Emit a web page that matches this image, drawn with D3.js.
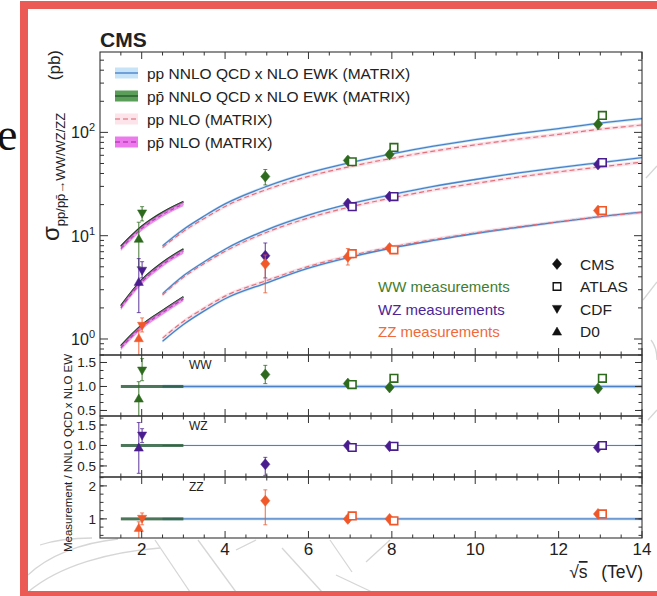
<!DOCTYPE html>
<html>
<head>
<meta charset="utf-8">
<script src="https://cdn.jsdelivr.net/npm/d3@7"></script>
<style>
  body { margin: 0; background: #fff; }
  text { font-family: "Liberation Sans", Arial, Helvetica, sans-serif; fill: #222; }
</style>
</head>
<body>
<svg id="chart" width="657" height="596"></svg>
<script>
// ---------- theory curves ----------
var ppE      = [2.5, 3, 3.5, 4, 5, 6, 7, 8, 9, 10, 11, 12, 13, 14];
var ppWWnnlo = [8.0, 11.5, 15.5, 20.3, 30, 40.5, 51, 62, 73.5, 85, 97, 109, 123, 136];
var ppWWnlo  = [7.7, 11.0, 14.7, 19.2, 28.0, 37.5, 46.7, 56.1, 65.9, 75.7, 85.7, 95.7, 107.4, 118.0];
var ppWZnnlo = [2.75, 4.1, 5.6, 7.4, 11.4, 15.8, 20.4, 25.0, 30.0, 35.0, 40.3, 45.6, 51.0, 57.0];
var ppWZnlo  = [2.67, 3.96, 5.38, 7.07, 10.8, 14.85, 19.0, 23.2, 27.7, 32.1, 36.8, 41.5, 46.3, 51.6];
var ppZZnnlo = [0.95, 1.38, 1.87, 2.45, 3.5, 4.85, 6.2, 7.6, 9.0, 10.5, 12.0, 13.6, 15.3, 16.9];
var ppZZnlo  = [1.02, 1.48, 1.99, 2.60, 3.68, 5.04, 6.39, 7.79, 9.18, 10.66, 12.12, 13.67, 15.3, 16.8];

var ppbarE      = [1.5, 2.0, 2.5, 3.0];
var ppbarWWnnlo = [7.9, 12.3, 16.8, 21.3];
var ppbarWWnlo  = [7.5, 11.7, 16.0, 20.3];
var ppbarWZnnlo = [2.1, 3.72, 5.5, 7.4];
var ppbarWZnlo  = [2.0, 3.55, 5.25, 7.05];
var ppbarZZnnlo = [0.86, 1.36, 1.88, 2.55];
var ppbarZZnlo  = [0.82, 1.30, 1.80, 2.44];

// relative widths of the theory bands
var ppNnloUnc = 0.03, ppNloUnc = 0.04, ppbarNnloUnc = 0.025, ppbarNloUnc = 0.05;
var ratioUncWW = 0.035, ratioUncWZ = 0.015, ratioUncZZ = 0.04;

// ---------- measurements: value [lo,hi] and ratio to theory [lo,hi] ----------
var wwData = [
  {exp: "CDF",   E: 1.96, v: 16.4, lo: 13.9, hi: 19.1, r: 1.33, rlo: 1.12, rhi: 1.58},
  {exp: "D0",    E: 1.96, v: 9.35, lo: 5.0,  hi: 13.5, r: 0.75, rlo: 0.35, rhi: 1.10},
  {exp: "CMS",   E: 5.02, v: 37.4, lo: 31.0, hi: 43.7, r: 1.25, rlo: 1.06, rhi: 1.44},
  {exp: "CMS",   E: 7,    v: 53.5, lo: 49.5, hi: 57.5, r: 1.06, rlo: 1.00, rhi: 1.12},
  {exp: "ATLAS", E: 7,    v: 52.0, lo: 49.0, hi: 55.0, r: 1.04, rlo: 0.99, rhi: 1.09},
  {exp: "CMS",   E: 8,    v: 61.0, lo: 57.0, hi: 65.0, r: 0.98, rlo: 0.93, rhi: 1.03},
  {exp: "ATLAS", E: 8,    v: 71.5, lo: 68.0, hi: 75.0, r: 1.17, rlo: 1.11, rhi: 1.23},
  {exp: "CMS",   E: 13,   v: 119.6, lo: 113, hi: 126,  r: 0.96, rlo: 0.92, rhi: 1.00},
  {exp: "ATLAS", E: 13,   v: 146,  lo: 139,  hi: 154,  r: 1.17, rlo: 1.11, rhi: 1.24}
];
var wzData = [
  {exp: "CDF",   E: 1.96, v: 4.57, lo: 3.9,  hi: 5.6,  r: 1.24, rlo: 1.07, rhi: 1.41},
  {exp: "D0",    E: 1.96, v: 3.58, lo: 1.8,  hi: 6.0,  r: 0.95, rlo: 0.32, rhi: 1.56},
  {exp: "CMS",   E: 5.02, v: 6.4,  lo: 3.9,  hi: 8.5,  r: 0.54, rlo: 0.27, rhi: 0.71},
  {exp: "CMS",   E: 7,    v: 20.5, lo: 19.3, hi: 21.8, r: 1.00, rlo: 0.95, rhi: 1.05},
  {exp: "ATLAS", E: 7,    v: 19.1, lo: 18.0, hi: 20.3, r: 0.95, rlo: 0.90, rhi: 1.00},
  {exp: "CMS",   E: 8,    v: 23.9, lo: 22.8, hi: 25.0, r: 0.98, rlo: 0.94, rhi: 1.02},
  {exp: "ATLAS", E: 8,    v: 23.9, lo: 22.9, hi: 25.0, r: 0.98, rlo: 0.94, rhi: 1.02},
  {exp: "CMS",   E: 13,   v: 48.9, lo: 46.5, hi: 51.5, r: 0.95, rlo: 0.91, rhi: 0.99},
  {exp: "ATLAS", E: 13,   v: 51.0, lo: 49.0, hi: 53.0, r: 1.00, rlo: 0.96, rhi: 1.04}
];
var zzData = [
  {exp: "CDF",   E: 1.96, v: 1.34, lo: 1.17, hi: 1.6,  r: 1.00, rlo: 0.82, rhi: 1.18},
  {exp: "D0",    E: 1.96, v: 1.02, lo: 0.5,  hi: 1.22, r: 0.73, rlo: 0.40, rhi: 0.91},
  {exp: "CMS",   E: 5.02, v: 5.34, lo: 2.8,  hi: 6.5,  r: 1.55, rlo: 0.82, rhi: 1.88},
  {exp: "CMS",   E: 7,    v: 6.25, lo: 5.2,  hi: 7.5,  r: 1.00, rlo: 0.90, rhi: 1.10},
  {exp: "ATLAS", E: 7,    v: 6.7,  lo: 6.1,  hi: 7.3,  r: 1.09, rlo: 1.00, rhi: 1.18},
  {exp: "CMS",   E: 8,    v: 7.6,  lo: 7.1,  hi: 8.1,  r: 1.00, rlo: 0.94, rhi: 1.06},
  {exp: "ATLAS", E: 8,    v: 7.3,  lo: 6.9,  hi: 7.7,  r: 0.94, rlo: 0.89, rhi: 0.99},
  {exp: "CMS",   E: 13,   v: 17.5, lo: 16.6, hi: 18.5, r: 1.15, rlo: 1.09, rhi: 1.21},
  {exp: "ATLAS", E: 13,   v: 17.5, lo: 16.7, hi: 18.4, r: 1.15, rlo: 1.09, rhi: 1.21}
];

// ---------- tick labels ----------
var xTicks      = [2, 4, 6, 8, 10, 12, 14];
var mainTicks   = [1, 10, 100];
var wwTicks     = [0.5, 1.0, 1.5];
var wzTicks     = [0.5, 1.0, 1.5];
var zzTicks     = [1, 2];
var legendTheory = ["pp NNLO QCD x NLO EWK (MATRIX)", "pp\u0304 NNLO QCD x NLO EWK (MATRIX)",
                    "pp NLO (MATRIX)", "pp\u0304 NLO (MATRIX)"];
var legendProc   = ["WW measurements", "WZ measurements", "ZZ measurements"];
var legendExp    = ["CMS", "ATLAS", "CDF", "D0"];

// ---------- layout ----------
var svg = d3.select("#chart");
var L = 100, R = 642;
var colWW = "#2d6a1e", colWZ = "#4a1d8f", colZZ = "#f0582a";
var expShift = {CMS: -0.055, ATLAS: 0.05, CDF: 0.05, D0: -0.03};

var x = d3.scaleLinear().domain([1, 14]).range([L, R]);
var yMain = d3.scaleLog().domain([0.7, 600]).range([355, 52]);

// background slide decoration
svg.append("rect").attr("width", 657).attr("height", 596).attr("fill", "#fff");
svg.append("text").attr("x", -3).attr("y", 150)
  .style("font-family", "'Liberation Serif', 'DejaVu Serif', serif").style("font-size", "46px")
  .style("fill", "#111").text("e");
var deco = svg.append("g").attr("fill", "none").attr("stroke", "#d6d6d6").attr("stroke-width", 1.3);
["M28,575 C48,556 80,543 118,539", "M28,592 C60,565 110,552 160,548", "M40,545 C55,540 70,538 92,538",
 "M155,540 L190,592", "M198,540 L236,592", "M236,550 L256,540", "M282,548 L322,592",
 "M330,540 L352,572", "M366,562 L390,540", "M336,575 L372,592",
 "M643,300 L657,282", "M646,178 L657,166", "M651,340 C655,345 657,352 657,360", "M648,420 L657,410"]
  .forEach(function (p) { deco.append("path").attr("d", p); });

// red frame
svg.append("rect").attr("x", 24).attr("y", 5).attr("width", 680).attr("height", 590)
  .attr("fill", "none").attr("stroke", "#ec5a55").attr("stroke-width", 8);

// white plot backgrounds
svg.append("rect").attr("x", L).attr("y", 52).attr("width", R - L).attr("height", 538 - 52).attr("fill", "#fff");

var defs = svg.append("defs");
function clip(id, y0, y1) {
  defs.append("clipPath").attr("id", id).append("rect")
    .attr("x", L).attr("y", y0).attr("width", R - L).attr("height", y1 - y0);
  return "url(#" + id + ")";
}

// ---------- main panel ----------
var gMain = svg.append("g").attr("clip-path", clip("cMain", 52, 355));

function series(E, vals) { return E.map(function (e, i) { return {E: e, v: vals[i]}; }); }

var lineMain = d3.line().x(function (d) { return x(d.E); }).y(function (d) { return yMain(d.v); })
  .curve(d3.curveMonotoneX);
function areaMain(unc) {
  return d3.area().x(function (d) { return x(d.E); })
    .y0(function (d) { return yMain(d.v * (1 - unc)); })
    .y1(function (d) { return yMain(d.v * (1 + unc)); })
    .curve(d3.curveMonotoneX);
}

var ppSets = [[ppWWnnlo, ppWWnlo], [ppWZnnlo, ppWZnlo], [ppZZnnlo, ppZZnlo]];
var ppbarSets = [[ppbarWWnnlo, ppbarWWnlo], [ppbarWZnnlo, ppbarWZnlo], [ppbarZZnnlo, ppbarZZnlo]];

ppSets.forEach(function (s) {
  gMain.append("path").datum(series(ppE, s[1])).attr("d", areaMain(ppNloUnc)).attr("fill", "#fbe1e8");
  gMain.append("path").datum(series(ppE, s[0])).attr("d", areaMain(ppNnloUnc)).attr("fill", "#c9e4f7");
});
ppSets.forEach(function (s) {
  gMain.append("path").datum(series(ppE, s[0])).attr("d", lineMain)
    .attr("fill", "none").attr("stroke", "#4a82c8").attr("stroke-width", 1.3);
  gMain.append("path").datum(series(ppE, s[1])).attr("d", lineMain)
    .attr("fill", "none").attr("stroke", "#e2707a").attr("stroke-width", 1.2).attr("stroke-dasharray", "5,3");
});
ppbarSets.forEach(function (s) {
  gMain.append("path").datum(series(ppbarE, s[0])).attr("d", areaMain(ppbarNnloUnc)).attr("fill", "#4f8f4f");
  gMain.append("path").datum(series(ppbarE, s[0])).attr("d", lineMain)
    .attr("fill", "none").attr("stroke", "#1d3a24").attr("stroke-width", 1.8);
  gMain.append("path").datum(series(ppbarE, s[1])).attr("d", areaMain(ppbarNloUnc))
    .attr("fill", "#e36fe3").attr("opacity", 0.75);
  gMain.append("path").datum(series(ppbarE, s[1])).attr("d", lineMain)
    .attr("fill", "none").attr("stroke", "#b83ab8").attr("stroke-width", 1.1).attr("stroke-dasharray", "4,3");
});

// ---------- markers ----------
function markerPath(exp) {
  if (exp === "CMS") return "M0,-5.5L4.6,0L0,5.5L-4.6,0Z";
  if (exp === "ATLAS") return "M-3.8,-3.8H3.8V3.8H-3.8Z";
  if (exp === "CDF") return "M-4.6,-3.6H4.6L0,4.4Z";
  return "M-4.6,3.6H4.6L0,-4.4Z";
}
function drawPoints(g, data, color, yScale, key) {
  var lo = key === "v" ? "lo" : "rlo", hi = key === "v" ? "hi" : "rhi";
  var pts = g.selectAll(null).data(data).enter().append("g")
    .attr("transform", function (d) { return "translate(" + x(d.E + expShift[d.exp]) + ",0)"; });
  pts.append("line").attr("x1", 0).attr("x2", 0)
    .attr("y1", function (d) { return yScale(d[lo]); }).attr("y2", function (d) { return yScale(d[hi]); })
    .attr("stroke", color).attr("stroke-width", 1.2).attr("opacity", 0.75);
  [lo, hi].forEach(function (k) {
    pts.append("line").attr("x1", -2).attr("x2", 2)
      .attr("y1", function (d) { return yScale(d[k]); }).attr("y2", function (d) { return yScale(d[k]); })
      .attr("stroke", color).attr("stroke-width", 1).attr("opacity", 0.75);
  });
  pts.append("path")
    .attr("transform", function (d) { return "translate(0," + yScale(d[key]) + ")"; })
    .attr("d", function (d) { return markerPath(d.exp); })
    .attr("fill", function (d) { return d.exp === "ATLAS" ? "#fff" : color; })
    .attr("stroke", color).attr("stroke-width", function (d) { return d.exp === "ATLAS" ? 1.6 : 0.5; });
}
drawPoints(gMain, wwData, colWW, yMain, "v");
drawPoints(gMain, wzData, colWZ, yMain, "v");
drawPoints(gMain, zzData, colZZ, yMain, "v");

// ---------- axes helpers ----------
var axisCol = "#333";
var xMinor = d3.range(1.5, 14, 0.5).filter(function (v) { return v % 2 !== 0; });
function frame(y0, y1) {
  var g = svg.append("g").attr("stroke", axisCol).attr("fill", "none");
  g.append("rect").attr("x", L).attr("y", y0).attr("width", R - L).attr("height", y1 - y0).attr("stroke-width", 1.1);
  xTicks.forEach(function (t) {
    g.append("line").attr("x1", x(t)).attr("x2", x(t)).attr("y1", y1).attr("y2", y1 - 7);
    g.append("line").attr("x1", x(t)).attr("x2", x(t)).attr("y1", y0).attr("y2", y0 + 7);
  });
  xMinor.forEach(function (t) {
    g.append("line").attr("x1", x(t)).attr("x2", x(t)).attr("y1", y1).attr("y2", y1 - 3.5);
    g.append("line").attr("x1", x(t)).attr("x2", x(t)).attr("y1", y0).attr("y2", y0 + 3.5);
  });
  return g;
}
function yTick(g, y, len) {
  g.append("line").attr("x1", L).attr("x2", L + len).attr("y1", y).attr("y2", y);
  g.append("line").attr("x1", R).attr("x2", R - len).attr("y1", y).attr("y2", y);
}

// main frame + log ticks
var gm = frame(52, 355);
mainTicks.forEach(function (t) { yTick(gm, yMain(t), 8); });
[0.1, 1, 10, 100].forEach(function (dec) {
  d3.range(2, 10).forEach(function (m) {
    var v = dec * m;
    if (v > 0.7 && v < 600) yTick(gm, yMain(v), 4);
  });
});
mainTicks.forEach(function (t, i) {
  var tx = svg.append("text").attr("x", 95).attr("y", yMain(t) + 6).attr("text-anchor", "end")
    .style("font-size", "16px");
  tx.append("tspan").text("10");
  tx.append("tspan").attr("dy", -7).style("font-size", "11px").text(String(Math.round(Math.log10(t))));
});

// ---------- ratio panels ----------
var ratioPanels = [
  {name: "WW", data: wwData, color: colWW, y0: 355, y1: 416, dom: [0.385, 1.656], ticks: wwTicks, minor: 1 / 6, unc: ratioUncWW, fmt: d3.format(".1f"), lab: 369},
  {name: "WZ", data: wzData, color: colWZ, y0: 416, y1: 477, dom: [0.23, 1.72], ticks: wzTicks, minor: 1 / 6, unc: ratioUncWZ, fmt: d3.format(".1f"), lab: 430},
  {name: "ZZ", data: zzData, color: colZZ, y0: 477, y1: 538, dom: [0.42, 2.27], ticks: zzTicks, minor: 0.25, unc: ratioUncZZ, fmt: d3.format("d"), lab: 491}
];
ratioPanels.forEach(function (p, i) {
  var y = d3.scaleLinear().domain(p.dom).range([p.y1, p.y0]);
  var g = svg.append("g").attr("clip-path", clip("cR" + i, p.y0, p.y1));
  var pp = d3.extent(ppE), pb = d3.extent(ppbarE);
  g.append("rect").attr("x", x(pp[0])).attr("width", x(pp[1]) - x(pp[0]))
    .attr("y", y(1 + p.unc)).attr("height", y(1 - p.unc) - y(1 + p.unc)).attr("fill", "#a9cbec");
  g.append("line").attr("x1", x(pp[0])).attr("x2", x(pp[1])).attr("y1", y(1)).attr("y2", y(1))
    .attr("stroke", "#4a7fc6").attr("stroke-width", 1);
  g.append("rect").attr("x", x(pb[0])).attr("width", x(pb[1]) - x(pb[0]))
    .attr("y", y(1) - 1.5).attr("height", 3).attr("fill", "#2c5e3c").attr("opacity", 0.85);
  drawPoints(g, p.data, p.color, y, "r");

  var gf = frame(p.y0, p.y1);
  p.ticks.forEach(function (t) { yTick(gf, y(t), 7); });
  d3.range(0, 3, p.minor).forEach(function (v) {
    if (v > p.dom[0] && v < p.dom[1]) yTick(gf, y(v), 3.5);
  });
  p.ticks.forEach(function (t) {
    svg.append("text").attr("x", 96).attr("y", y(t) + 5).attr("text-anchor", "end")
      .style("font-size", "13.5px").text(p.fmt(t));
  });
  svg.append("text").attr("x", 189).attr("y", p.lab).style("font-size", "12px").text(p.name);
});

// x tick labels
xTicks.forEach(function (t) {
  svg.append("text").attr("x", x(t)).attr("y", 555).attr("text-anchor", "middle")
    .style("font-size", "17px").text(t);
});
var xl = svg.append("text").attr("x", 643).attr("y", 578).attr("text-anchor", "end").style("font-size", "17.5px");
xl.append("tspan").text("\u221A");
xl.append("tspan").style("text-decoration", "overline").text("s");
xl.append("tspan").text("\u2002 (TeV)");

// y titles
var yl = svg.append("text").attr("transform", "translate(59,241) rotate(-90)");
yl.append("tspan").style("font-size", "24px").text("\u03C3");
yl.append("tspan").attr("dy", 6).style("font-size", "13px").text("pp/pp\u0304\u2192WW/WZ/ZZ");
svg.append("text").attr("transform", "translate(60,50) rotate(-90)").attr("text-anchor", "end")
  .style("font-size", "17px").text("(pb)");
svg.append("text").attr("transform", "translate(72,453) rotate(-90)").attr("text-anchor", "middle")
  .style("font-size", "11.5px").text("Measurement / NNLO QCD x NLO EW");

// CMS label
svg.append("text").attr("x", 100).attr("y", 47).style("font-size", "21px").style("font-weight", "bold").text("CMS");

// ---------- legends ----------
var legRows = [73, 96, 119, 142];
var swatch = [
  {fill: "#c7e3f7", line: "#4a83c9", dash: null},
  {fill: "#5a9e5a", line: "#24582a", dash: null},
  {fill: "#fde3ea", line: "#e58a95", dash: "5,3"},
  {fill: "#ec7aec", line: "#c03dc0", dash: "5,3"}
];
legendTheory.forEach(function (t, i) {
  var cy = legRows[i];
  svg.append("rect").attr("x", 115).attr("y", cy - 5.5).attr("width", 23).attr("height", 11).attr("fill", swatch[i].fill);
  svg.append("line").attr("x1", 115).attr("x2", 138).attr("y1", cy).attr("y2", cy)
    .attr("stroke", swatch[i].line).attr("stroke-width", 1.4).attr("stroke-dasharray", swatch[i].dash);
  svg.append("text").attr("x", 147).attr("y", cy + 5.5).style("font-size", "15.5px").text(t);
});

var expRows = [264, 286.5, 309, 331.5];
var procCols = ["#3f7d2f", "#4b2696", "#ef6a3a"];
legendProc.forEach(function (t, i) {
  svg.append("text").attr("x", 378).attr("y", expRows[i + 1] + 5.5).style("font-size", "15px")
    .style("fill", procCols[i]).text(t);
});
legendExp.forEach(function (t, i) {
  svg.append("path").attr("transform", "translate(557," + expRows[i] + ")").attr("d", markerPath(t))
    .attr("fill", t === "ATLAS" ? "#fff" : "#111").attr("stroke", "#111")
    .attr("stroke-width", t === "ATLAS" ? 1.4 : 0.5);
  svg.append("text").attr("x", 580).attr("y", expRows[i] + 5.5).style("font-size", "15.5px").text(t);
});
</script>
</body>
</html>
